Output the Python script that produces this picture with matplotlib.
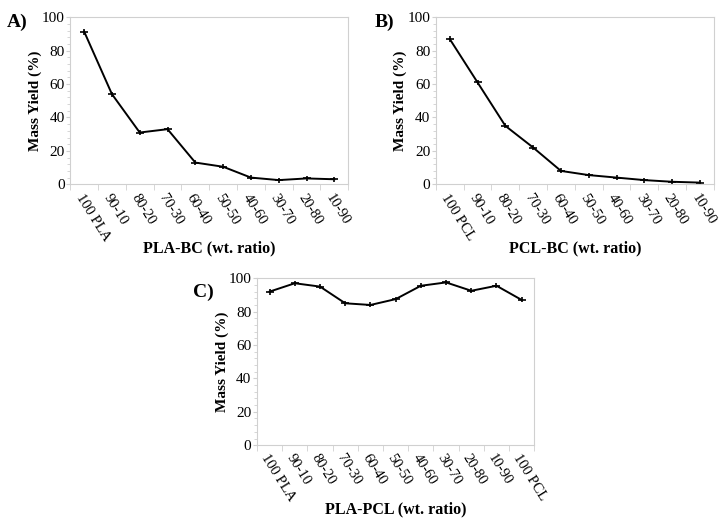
import numpy as np
import matplotlib.pyplot as plt
from matplotlib.ticker import MultipleLocator, FixedLocator

plt.rcParams["font.family"] = ["Liberation Serif", "DejaVu Serif"]

pla_bc_cats = ["100 PLA", "90-10", "80-20", "70-30", "60-40", "50-50", "40-60", "30-70", "20-80", "10-90"]
pla_bc_yield = [91.5, 54, 31, 33, 13, 10.5, 4, 2.5, 3.5, 3]
pla_bc_err = [1.8, 1.5, 1.5, 1.5, 1.5, 1.5, 1.5, 1.5, 1.5, 1.5]

pcl_bc_cats = ["100 PCL", "90-10", "80-20", "70-30", "60-40", "50-50", "40-60", "30-70", "20-80", "10-90"]
pcl_bc_yield = [87, 61, 35, 22, 8, 5.5, 4, 2.5, 1.5, 1]
pcl_bc_err = [1.8, 1.5, 1.5, 1.5, 1.5, 1.5, 1.5, 1.5, 1.5, 1.5]

pla_pcl_cats = ["100 PLA", "90-10", "80-20", "70-30", "60-40", "50-50", "40-60", "30-70", "20-80", "10-90", "100 PCL"]
pla_pcl_yield = [92, 97, 95, 85, 84, 87.5, 95.5, 97.5, 92.5, 95.5, 87]
pla_pcl_err = [1.8, 1.5, 1.5, 1.5, 1.5, 1.5, 1.5, 1.5, 1.5, 1.5, 1.5]

FRAME = "#d0d0d0"


def panel(ax, cats, vals, err, xlabel):
    x = np.arange(len(cats))
    ax.errorbar(x, vals, yerr=err, color="black", linewidth=1.4,
                marker="_", markersize=6, markeredgewidth=1.2,
                elinewidth=1.2, capsize=0)
    ax.set_xlim(-0.5, len(cats) - 0.5)
    ax.set_ylim(0, 100)
    ax.yaxis.set_major_locator(MultipleLocator(20))
    ax.yaxis.set_minor_locator(MultipleLocator(4))
    ax.set_xticks(x)
    ax.set_xticklabels(cats, rotation=-58, ha="left", va="top",
                       rotation_mode="anchor", fontsize=10.5)
    ax.xaxis.set_minor_locator(FixedLocator(np.arange(len(cats) + 1) - 0.5))
    ax.tick_params(axis="x", which="major", length=0, pad=5)
    ax.tick_params(axis="x", which="minor", length=4, color=FRAME)
    ax.tick_params(axis="y", which="major", length=3, color=FRAME,
                   labelsize=11, pad=1)
    ax.tick_params(axis="y", which="minor", length=2, color=FRAME)
    for s in ax.spines.values():
        s.set_color(FRAME)
        s.set_linewidth(0.8)
    ax.set_ylabel("Mass Yield (%)", fontsize=11, fontweight="bold", labelpad=0)
    ax.set_xlabel(xlabel, fontsize=11.5, fontweight="bold")
    ax.xaxis.set_label_coords(0.5, -0.385)
    ax.xaxis.label.set_va("center")


fig = plt.figure(figsize=(7.24, 5.25), dpi=100)
ax_a = fig.add_axes([0.097, 0.649, 0.384, 0.318])
ax_b = fig.add_axes([0.602, 0.649, 0.384, 0.318])
ax_c = fig.add_axes([0.355, 0.152, 0.383, 0.318])

panel(ax_a, pla_bc_cats, pla_bc_yield, pla_bc_err, "PLA-BC (wt. ratio)")
panel(ax_b, pcl_bc_cats, pcl_bc_yield, pcl_bc_err, "PCL-BC (wt. ratio)")
panel(ax_c, pla_pcl_cats, pla_pcl_yield, pla_pcl_err, "PLA-PCL (wt. ratio)")

fig.text(0.010, 0.958, "A)", fontsize=14, fontweight="bold", va="center")
fig.text(0.518, 0.958, "B)", fontsize=14, fontweight="bold", va="center")
fig.text(0.266, 0.443, "C)", fontsize=14, fontweight="bold", va="center")

fig.savefig("out.png", dpi=100)
